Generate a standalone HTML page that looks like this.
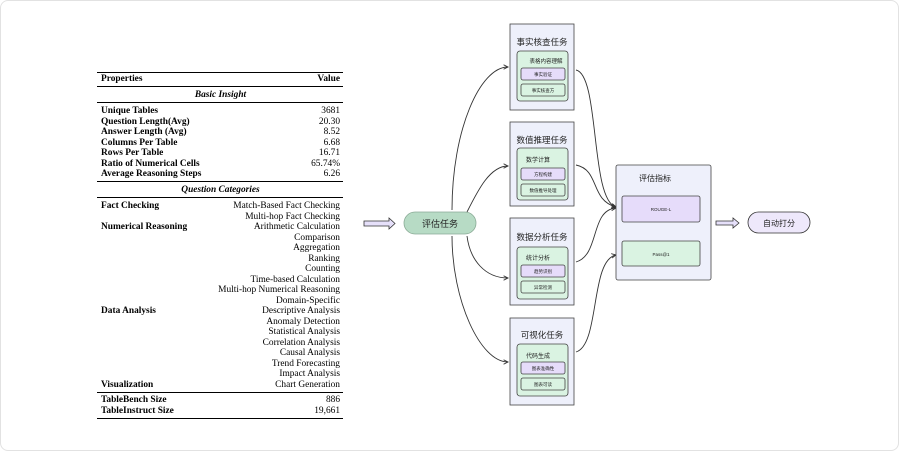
<!DOCTYPE html>
<html><head><meta charset="utf-8"><style>
body{margin:0;width:907px;height:459px;background:#fff;position:relative;overflow:hidden}
.card{position:absolute;left:0;top:0;width:897px;height:449px;border:1px solid #e2e2e2;border-radius:8px;background:#fff}
.t{position:absolute;left:100px;width:241px;font-family:"Liberation Serif",serif;font-size:9.4px;color:#000}
.r{position:absolute;left:0;width:241px;height:10.5px;line-height:10.5px;white-space:nowrap}
.r b{position:absolute;left:1px}
.r span{position:absolute;right:1px}
.c{position:absolute;left:0;width:241px;text-align:center;font-weight:bold;font-style:italic;line-height:10.5px}
.hl{position:absolute;left:-3px;width:246px;background:#000}
svg text{font-family:"Liberation Sans","Noto Sans CJK SC",sans-serif}
</style></head><body>
<div class="card"></div>
<div class="t" style="top:0">
<div class="hl" style="top:72px;height:1.2px"></div>
<div class="r" style="top:74px"><b>Properties</b><span style="font-weight:bold">Value</span></div>
<div class="hl" style="top:86px;height:0.8px"></div>
<div class="c" style="top:90px">Basic Insight</div>
<div class="hl" style="top:102px;height:0.8px"></div>
<div class="r" style="top:106px"><b>Unique Tables</b><span>3681</span></div>
<div class="r" style="top:116.5px"><b>Question Length(Avg)</b><span>20.30</span></div>
<div class="r" style="top:127px"><b>Answer Length (Avg)</b><span>8.52</span></div>
<div class="r" style="top:137.5px"><b>Columns Per Table</b><span>6.68</span></div>
<div class="r" style="top:148px"><b>Rows Per Table</b><span>16.71</span></div>
<div class="r" style="top:158.5px"><b>Ratio of Numerical Cells</b><span>65.74%</span></div>
<div class="r" style="top:169px"><b>Average Reasoning Steps</b><span>6.26</span></div>
<div class="hl" style="top:181px;height:0.8px"></div>
<div class="c" style="top:185px">Question Categories</div>
<div class="hl" style="top:197px;height:0.8px"></div>
<div class="r" style="top:201px"><b>Fact Checking</b><span>Match-Based Fact Checking</span></div>
<div class="r" style="top:211.5px"><span>Multi-hop Fact Checking</span></div>
<div class="r" style="top:222px"><b>Numerical Reasoning</b><span>Arithmetic Calculation</span></div>
<div class="r" style="top:232.5px"><span>Comparison</span></div>
<div class="r" style="top:243px"><span>Aggregation</span></div>
<div class="r" style="top:253.5px"><span>Ranking</span></div>
<div class="r" style="top:264px"><span>Counting</span></div>
<div class="r" style="top:274.5px"><span>Time-based Calculation</span></div>
<div class="r" style="top:285px"><span>Multi-hop Numerical Reasoning</span></div>
<div class="r" style="top:295.5px"><span>Domain-Specific</span></div>
<div class="r" style="top:306px"><b>Data Analysis</b><span>Descriptive Analysis</span></div>
<div class="r" style="top:316.5px"><span>Anomaly Detection</span></div>
<div class="r" style="top:327px"><span>Statistical Analysis</span></div>
<div class="r" style="top:337.5px"><span>Correlation Analysis</span></div>
<div class="r" style="top:348px"><span>Causal Analysis</span></div>
<div class="r" style="top:358.5px"><span>Trend Forecasting</span></div>
<div class="r" style="top:369px"><span>Impact Analysis</span></div>
<div class="r" style="top:379.5px"><b>Visualization</b><span>Chart Generation</span></div>
<div class="hl" style="top:392px;height:0.8px"></div>
<div class="r" style="top:395px"><b>TableBench Size</b><span>886</span></div>
<div class="r" style="top:405.5px"><b>TableInstruct Size</b><span>19,661</span></div>
<div class="hl" style="top:418px;height:1.2px"></div>
</div>
<svg width="907" height="459" style="position:absolute;left:0;top:0">
<defs><marker id="a" markerWidth="6" markerHeight="6" refX="5" refY="3" orient="auto"><path d="M0,0.5 L5,3 L0,5.5" fill="none" stroke="#333" stroke-width="1"/></marker></defs>
<g fill="none" stroke="#333" stroke-width="0.9" marker-end="url(#a)">
<path d="M452,210 C452,130 480,67 508,67"/>
<path d="M467,212 C478,190 490,166 508,166"/>
<path d="M467,236 C470,260 485,278 508,278"/>
<path d="M452,236 C452,300 480,362 508,362"/>
<path d="M576,70 C600,75 590,200 616,207"/>
<path d="M576,165 C600,170 590,200 616,207"/>
<path d="M576,262 C600,255 590,210 616,208"/>
<path d="M576,352 C600,345 590,260 616,255"/>
</g>
<path d="M364,221 h25 v-3 l6,5.5 l-6,5.5 v-3 h-25 z" fill="#e6e0fa" stroke="#333" stroke-width="0.8"/>
<rect x="404" y="212" width="72" height="22" rx="11" fill="#b7dbc5" stroke="#8aab96" stroke-width="0.8"/>
<text x="440" y="227" font-size="9" text-anchor="middle" fill="#222">评估任务</text>
<path d="M716,221 h17 v-3 l6,5 l-6,5 v-3 h-17 z" fill="#e6e0fa" stroke="#333" stroke-width="0.8"/>
<rect x="748" y="212" width="62" height="21" rx="10.5" fill="#eee8fb" stroke="#333" stroke-width="0.8"/>
<g stroke="#444" stroke-width="0.8">
<rect x="510" y="24" width="64" height="86" fill="#eef0fb"/>
<rect x="510" y="122" width="64" height="84" fill="#eef0fb"/>
<rect x="510" y="218" width="64" height="87" fill="#eef0fb"/>
<rect x="510" y="318" width="64" height="87" fill="#eef0fb"/>
<rect x="517" y="51" width="51" height="50" rx="3" fill="#daf3e2"/>
<rect x="517" y="148" width="51" height="52" rx="3" fill="#daf3e2"/>
<rect x="517" y="247" width="51" height="52" rx="3" fill="#daf3e2"/>
<rect x="517" y="344" width="51" height="52" rx="3" fill="#daf3e2"/>
<rect x="521" y="68" width="44" height="12" rx="2" fill="#e6dcfa"/>
<rect x="521" y="84" width="44" height="12" rx="2" fill="#daf3e2"/>
<rect x="521" y="168" width="44" height="12" rx="2" fill="#e6dcfa"/>
<rect x="521" y="184" width="44" height="12" rx="2" fill="#daf3e2"/>
<rect x="521" y="265" width="44" height="12" rx="2" fill="#e6dcfa"/>
<rect x="521" y="281" width="44" height="12" rx="2" fill="#daf3e2"/>
<rect x="521" y="362" width="44" height="12" rx="2" fill="#e6dcfa"/>
<rect x="521" y="378" width="44" height="12" rx="2" fill="#daf3e2"/>
<rect x="616" y="165" width="95" height="115" rx="2" fill="#eef0fb"/>
<rect x="622" y="196" width="78" height="26" rx="2" fill="#e6dcfa"/>
<rect x="622" y="241" width="78" height="25" rx="2" fill="#daf3e2"/>
</g>
<g fill="#222" text-anchor="middle">
<text x="542" y="45" font-size="8.5">事实核查任务</text>
<text x="542" y="143" font-size="8.5">数值推理任务</text>
<text x="542" y="240" font-size="8.5">数据分析任务</text>
<text x="542" y="338" font-size="8.5">可视化任务</text>
<text x="546" y="63" font-size="5.5">表格内容理解</text>
<text x="538" y="162" font-size="6">数学计算</text>
<text x="538" y="260" font-size="6">统计分析</text>
<text x="538" y="358" font-size="6">代码生成</text>
<g font-size="4.5">
<text x="543" y="76">事实验证</text><text x="543" y="92">事实核查方</text>
<text x="543" y="176">方程构建</text><text x="543" y="192">数值推导处理</text>
<text x="543" y="273">趋势识别</text><text x="543" y="289">异常检测</text>
<text x="543" y="370">图表准确性</text><text x="543" y="386">图表可读</text>
<text x="661" y="211">ROUGE-L</text><text x="661" y="256">Pass@1</text>
</g>
<text x="655" y="181" font-size="8">评估指标</text>
<text x="779" y="226" font-size="8">自动打分</text>
</g>
</svg>
</body></html>
